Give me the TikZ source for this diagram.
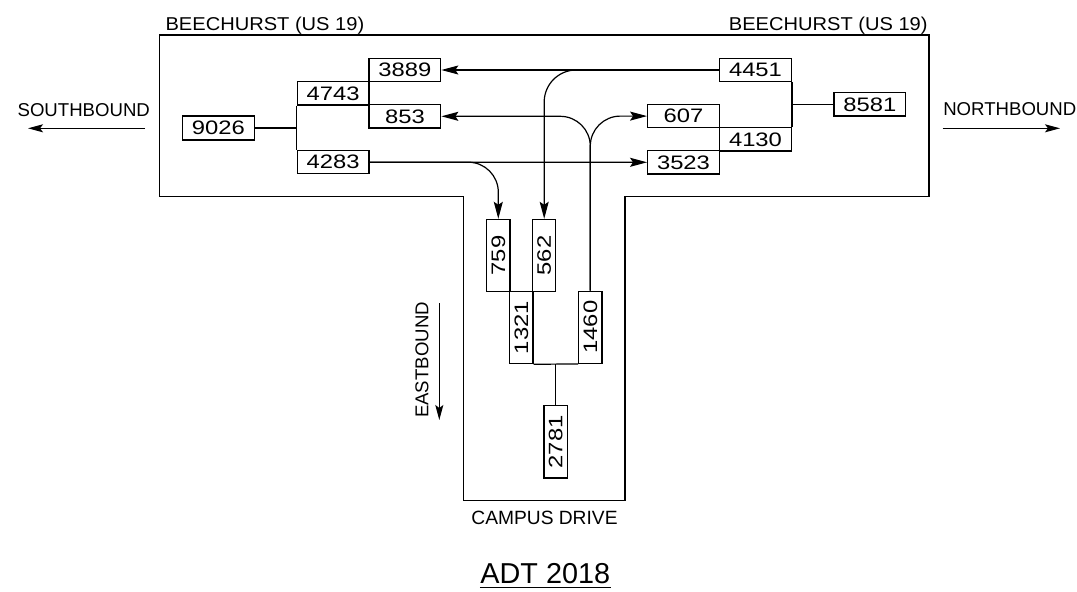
\documentclass[tikz,border=0pt]{standalone}
\usepackage{fontspec}
\setmainfont{Liberation Sans}
\newfontfamily\numfont[FakeStretch=1.22]{Liberation Sans}
\newfontfamily\wideLbl[FakeStretch=1.08]{Liberation Sans}
\usetikzlibrary{arrows.meta}
\begin{document}
\begin{tikzpicture}[x=1pt,y=-1pt,
  line width=1.2pt,
  numf/.style={font=\numfont\fontsize{19.5}{20}\selectfont},
  box/.style={draw, inner sep=0pt, minimum width=71.7pt, minimum height=23.3pt, numf},
  vbox/.style={draw, inner sep=0pt, minimum width=23.3pt, minimum height=72.2pt, numf},
  lbl/.style={inner sep=0pt, anchor=base west, font=\fontsize{18.6}{20}\selectfont},
  arr/.style={-{Stealth[length=17pt,width=9pt,inset=3pt]}},
  arrb/.style={-{Stealth[length=15pt,width=8pt,inset=3pt]}},
]
\useasboundingbox (0,0) rectangle (1077,592);

% road outline
\draw (159.5,35) -- (929,35) -- (929,196.5) -- (625,196.5) -- (625,500.7)
  -- (463.3,500.7) -- (463.3,196.5) -- (159.5,196.5) -- cycle;

% west side boxes
\node[box] (b3889) at (404.9,70) {3889};
\node[box] (b4743) at (333.2,93.3) {4743};
\node[box] (b853)  at (404.9,116.3) {853};
\node[box, minimum height=24pt] (b9026) at (218.3,127.9) {9026};
\node[box] (b4283) at (333.2,162.2) {4283};

% east side boxes
\node[box] (b4451) at (755.5,70) {4451};
\node[box] (b8581) at (869.8,104.4) {8581};
\node[box] (b607)  at (683.5,116.1) {607};
\node[box] (b4130) at (755.5,139.3) {4130};
\node[box] (b3523) at (683.5,162.3) {3523};

% campus drive boxes
\node[vbox] (b759)  at (498.3,255.5) {\rotatebox{90}{759}};
\node[vbox] (b562)  at (544.2,255.5) {\rotatebox{90}{562}};
\node[vbox] (b1321) at (521.3,327.6) {\rotatebox{90}{1321}};
\node[vbox] (b1460) at (590.3,327.2) {\rotatebox{90}{1460}};
\node[vbox] (b2781) at (555.7,441.9) {\rotatebox{90}{2781}};

% tree connectors
\draw (b4743.south west) -- (b4283.north west);
\draw (b9026.east) -- (b9026.east -| b4743.west);
\draw (b4451.south east) -- (b4130.north east);
\draw (b8581.west) -- (b8581.west -| b4451.east);
\draw (b1321.south east) -- (b1460.south west);
\coordinate (j) at (b2781.north |- b1321.south);
\draw (j) -- (b2781.north);

% movement arrows
\draw[arr] (b4451.west) -- (b3889.east);
\draw[arr, rounded corners=32pt] (b4451.west) -| (b562.north);
\draw[arr] (b4283.east) -- (b3523.west);
\draw[arr, rounded corners=30pt] (b4283.east) -| (b759.north);
\draw[arr, rounded corners=30pt] (b1460.north) |- (b853.east);
\draw[arr, rounded corners=30pt] (b1460.north) |- (b607.west);

% labels
\node[lbl, font=\wideLbl\fontsize{18.6}{20}\selectfont] (tbw) at (165,30) {BEECHURST (US 19)};
\node[lbl, font=\wideLbl\fontsize{18.6}{20}\selectfont] (tbe) at (728.3,30) {BEECHURST (US 19)};

\node[lbl] (tsb) at (17,116) {SOUTHBOUND};
\coordinate (sbA) at (145,128.3);
\coordinate (sbB) at (28,128.3);
\draw[arrb] (sbA) -- (sbB);

\node[lbl] (tnb) at (942.7,115.7) {NORTHBOUND};
\coordinate (nbA) at (942.7,128.3);
\coordinate (nbB) at (1060,128.3);
\draw[arrb] (nbA) -- (nbB);

\node[inner sep=0pt, anchor=base, rotate=90, font=\fontsize{18.6}{20}\selectfont] (teb) at (428.3,360) {EASTBOUND};
\coordinate (ebA) at (439.3,303);
\coordinate (ebB) at (439.3,420);
\draw[arrb] (ebA) -- (ebB);

\node[inner sep=0pt, anchor=base, font=\fontsize{19.2}{20}\selectfont] (tcd) at (544.5,524) {CAMPUS DRIVE};

\node[inner sep=0pt, anchor=base, font=\fontsize{28.8}{30}\selectfont] (adt) at (545.3,583.3) {ADT 2018};
\draw[line width=1.5pt] ([yshift=-4pt]adt.base west) -- ([yshift=-4pt]adt.base east);
\end{tikzpicture}
\end{document}
